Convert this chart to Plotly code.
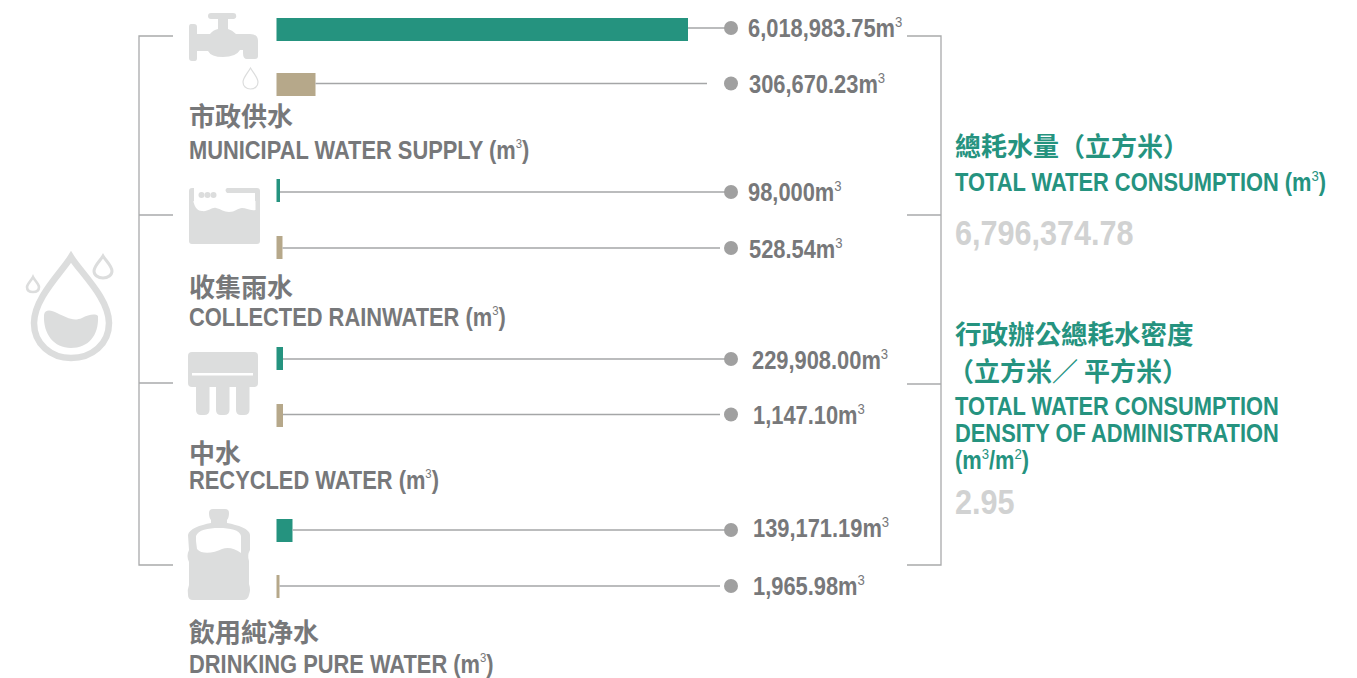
import plotly.graph_objects as go

# ---- data ----
categories_zh = ["市政供水", "收集雨水", "中水", "飲用純净水"]
categories_en = ["MUNICIPAL WATER SUPPLY (m", "COLLECTED RAINWATER (m",
                 "RECYCLED WATER (m", "DRINKING PURE WATER (m"]
value_labels = ["6,018,983.75", "306,670.23", "98,000", "528.54",
                "229,908.00", "1,147.10", "139,171.19", "1,965.98"]
# Drawn bar lengths as they appear (the reference's bars are not proportional to the labels)
bar_lengths = [411.5, 39, 3.5, 6, 6.5, 6.5, 16, 3]
series_colors = ["#25937F", "#B6A88A"] * 4
total_zh = "總耗水量（立方米）"
total_en = "TOTAL WATER CONSUMPTION (m"
total_value = "6,796,374.78"
density_zh = ["行政辦公總耗水密度", "（立方米／ 平方米）"]
density_en = ["TOTAL WATER CONSUMPTION", "DENSITY OF ADMINISTRATION"]
density_value = "2.95"

# ---- layout constants ----
W, H = 1357, 678
PAGE_MARGIN = 8  # the page body's default margin
BAR_X0 = 276.5
row_y = [29.5, 84.5, 190.5, 247.5, 358.5, 415.5, 530.5, 586.5]
line_y = [28, 83.5, 192, 248, 359, 414.5, 530, 586]
line_end = [731, 707, 731, 720, 731, 720, 731, 720]
DOT_X = 731
label_x = [746, 747, 746, 747, 750, 751, 751, 751]
label_y = [28, 84, 192, 249, 360, 415, 528, 586]
GREY, TEAL, PALE, ICON, RULE = "#77787A", "#25937F", "#D1D2D2", "#DCDDDD", "#A9AAAB"
SANS = "Liberation Sans"
CJK = "Noto Sans CJK TC"
TX = 186.5   # left edge of the category labels
RX = 953     # left edge of the right-hand block

def sup(d, px=15, closing=""):
    return f'<sup><span style="font-size:{px}px;font-weight:normal">{d}</span></sup>{closing}'

fig = go.Figure()
for y, e, w in zip(line_y, line_end, bar_lengths):
    fig.add_trace(go.Scatter(x=[BAR_X0 + w, e], y=[y, y], mode="lines",
                             line=dict(color="#A5A6A7", width=1.3), hoverinfo="skip"))
fig.add_trace(go.Bar(x=bar_lengths, base=BAR_X0, y=row_y, orientation="h", width=23,
                     marker=dict(color=series_colors, line_width=0), hoverinfo="skip"))
fig.add_trace(go.Scatter(x=[DOT_X] * 8, y=line_y, mode="markers",
                         marker=dict(color="#A0A0A0", size=14), hoverinfo="skip"))

shapes = []
def P(path, fill=ICON, line=None, lw=0):
    shapes.append(dict(type="path", path=path, xref="x", yref="y", fillcolor=fill,
                       line=dict(color=line or "rgba(0,0,0,0)", width=lw), layer="above"))
def L(pts):
    shapes.append(dict(type="path", path="M" + " L".join(f"{x},{y}" for x, y in pts),
                       xref="x", yref="y", line=dict(color=RULE, width=1.3), layer="below"))

# brackets
L([(173, 36), (139, 36), (139, 565), (173, 565)])
L([(139, 215), (173, 215)])
L([(139, 383), (173, 383)])
L([(907, 36), (941, 36), (941, 565), (907, 565)])
L([(907, 215), (941, 215)])
L([(907, 384), (941, 384)])

# faucet
P("M191,24 Q189,24 189,27 L189,58 Q189,61 192,61 L195,61 Q197,61 197,58 L197,51 L208,51 "
  "Q211,57 223,57 Q236,57 240,50 L243,50 L243,53 Q243,59 247,59 L255,59 Q258,59 258,56 L258,41 "
  "Q258,34 250,34 L236,34 Q232,30 228,29 L228,19 L234,19 Q237,18 236,15 Q236,13 233,13 L211,13 "
  "Q208,13 208,16 Q208,19 211,19 L218,19 L218,29 Q213,30 210,34 L197,34 L197,27 Q197,24 194,24 Z")
P("M250.5,68 C247,74 243,78 243,82 C243,86 246,89 250.5,89 C255,89 258,86 258,82 C258,78 254,74 250.5,68 Z",
  fill="#FFFFFF", line="#DCDDDD", lw=1.2)
# rain tank
P("M192,188 Q189,188 189,191 L189,241 Q189,244 192,244 L257,244 Q260,244 260,241 L260,191 Q260,188 257,188 "
  "L227,188 Q224,190 227,193 L255,193 L255,202 L194,202 L194,188 Z")
P("M193.5,202 C195,208 198,211 202,211 C208,212 212,207 216,208 C221,209 224,212 229,212 C235,212 238,208 242,208 "
  "C246,208 250,211 255.5,210 L255.5,201 L193.5,201 Z", fill="#FFFFFF")
for cx in (201.5, 207.5, 213.5):
    P(f"M{cx},192 Q{cx+3},192 {cx+3},195 Q{cx+3},198 {cx},198 Q{cx-3},198 {cx-3},195 Q{cx-3},192 {cx},192 Z")
# filter
P("M192,352 L254,352 Q258,352 258,356 L258,383 Q258,387 254,387 L192,387 Q188,387 188,383 L188,356 Q188,352 192,352 Z")
P("M192,373 L253,373 L253,375.5 L192,375.5 Z", fill="#FFFFFF")
for x0 in (196, 216, 236):
    P(f"M{x0},387 L{x0+13.5},387 L{x0+13.5},410 Q{x0+13.5},415 {x0+8},415 L{x0+5},415 Q{x0},415 {x0},410 Z")
# bottle
P("M213,509 L225,509 Q229,509 229,513 Q229,518 227,520 L227,523 C238,525 250,529 250,535 L250,550 "
  "Q247,555 249,561 L249,584 Q251,590 249,595 Q248,600 243,600 L193,600 Q188,600 188,595 Q187,590 189,585 "
  "L189,562 Q186,556 189,550 L188,535 C189,529 200,525 211,523 L211,520 Q209,518 209,513 Q209,509 213,509 Z")
P("M196,541 L196,536 C198,530 208,528 219,528 C230,528 240,530 241,536 L241,553 C234,548 228,547 222,549 "
  "C214,553 202,555 197,549 Z", fill="#FFFFFF")
# large drop and companions
P("M71,257 C62,272 34,298 34,323 C34,344 51,358 71,358 C92,358 109,344 109,323 C109,298 80,272 71,257 Z",
  fill="#FFFFFF", line="#DCDDDD", lw=6.5)
P("M44,315 C45,309 51,310 57,313 C66,317 73,322 82,318 C88,315 95,313 98,316 C99,336 88,348 71,348 C54,348 43,334 44,315 Z")
P("M33,277 C31,281 27,284 27,287 C27,290 29,292 33,292 C37,292 39,290 39,287 C39,284 35,281 33,277 Z",
  fill="#FFFFFF", line="#DCDDDD", lw=2.6)
P("M103,256 C100,261 94,266 94,271 C94,275 98,278 103,278 C108,278 112,275 112,271 C112,266 106,261 103,256 Z",
  fill="#FFFFFF", line="#DCDDDD", lw=3)

ann = []
def T(x, y, text, color=GREY, size=25, fam=SANS):
    ann.append(dict(x=x, y=y, xref="x", yref="y", text=f"<b>{text}</b>", showarrow=False,
                    xanchor="left", yanchor="middle", align="left",
                    font=dict(family=fam, size=size, color=color)))

for x, y, t in zip(label_x, label_y, value_labels):
    T(x, y, t + "m" + sup(3))
for y, t in zip([114, 285, 451, 630], categories_zh):
    T(TX, y, t, size=26, fam=CJK)
for y, t in zip([150, 317, 480, 664], categories_en):
    T(TX, y, t + sup(3, 13, ")"))
T(RX, 144, total_zh, TEAL, 26, CJK)
T(RX, 182, total_en + sup(3, 15, ")"), TEAL)
T(RX, 232, total_value, PALE, 36)
T(RX, 332, density_zh[0], TEAL, 26.5, CJK)
T(RX - 7, 369, density_zh[1], TEAL, 26, CJK)
T(RX, 406, density_en[0], TEAL)
T(RX, 433, density_en[1], TEAL)
T(RX, 460, "(m" + sup(3) + "/m" + sup(2, 15, ")"), TEAL)
T(RX, 501, density_value, PALE, 36)

fig.update_layout(
    width=W - PAGE_MARGIN, height=H - PAGE_MARGIN, margin=dict(l=0, r=0, t=0, b=0), autosize=False,
    paper_bgcolor="#FFFFFF", plot_bgcolor="#FFFFFF", showlegend=False,
    xaxis=dict(range=[PAGE_MARGIN, W], visible=False, fixedrange=True),
    yaxis=dict(range=[H, PAGE_MARGIN], visible=False, fixedrange=True),
    shapes=shapes, annotations=ann, barmode="overlay",
)

# The reference's Latin text is a condensed bold face; narrow the installed Liberation Sans Bold to match.
squeeze = r"""
(function(){
  document.querySelectorAll('.annotation-text-g text, .annotation text').forEach(function(t){
    if (/[\u3000-\u9fff\uff00-\uffef]/.test(t.textContent)) return;
    var S = parseFloat(getComputedStyle(t).fontSize) > 30 ? 0.85 : 0.875;
    var x = parseFloat(t.getAttribute('x')) || 0;
    t.setAttribute('transform', 'translate(' + x + ',0) scale(' + S + ',1) translate(' + (-x) + ',0)');
  });
})();
"""
fig.write_html("out.html", config=dict(displayModeBar=False), post_script=squeeze)
